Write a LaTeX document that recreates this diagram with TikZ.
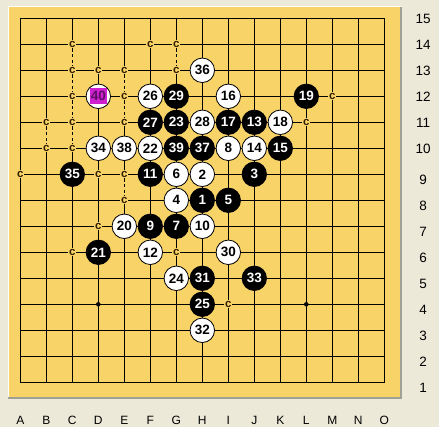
\documentclass[tikz,border=0pt]{standalone}
\usepackage{fontspec}
\setmainfont{Liberation Sans}
\usepackage{tikz}
\definecolor{board}{RGB}{248,211,104}
\definecolor{panel}{RGB}{236,233,216}
\definecolor{frameshade}{RGB}{160,160,150}
\definecolor{hilite}{RGB}{206,32,206}
\definecolor{hilitetxt}{RGB}{92,16,100}
\definecolor{cmarktxt}{RGB}{50,30,0}

\begin{document}
\begin{tikzpicture}[x=26pt,y=26pt,line width=1pt,
 bstone/.style={circle,fill=black,text=white,minimum size=25.3pt,inner sep=0pt,font=\fontsize{13.5}{13.5}\selectfont\bfseries},
 wstone/.style={circle,draw=black,line width=.8pt,fill=white,text=black,minimum size=24.5pt,inner sep=0pt,font=\fontsize{13.5}{13.5}\selectfont\bfseries},
 lastmv/.style={fill=hilite,text=hilitetxt,minimum width=17pt,minimum height=16pt,inner sep=0pt,font=\fontsize{13.5}{13.5}\selectfont\bfseries},
 cpt/.style={fill=board,text=cmarktxt,inner sep=.9pt,font=\fontsize{11.5}{11.5}\selectfont\bfseries},
 dashlink/.style={preaction={draw=board,line width=2.2pt},dash pattern=on 3pt off 2.5pt},
 collab/.style={font=\fontsize{12}{12}\selectfont},
 rowlab/.style={font=\fontsize{13.5}{13.5}\selectfont}]
\useasboundingbox (-.7808,-1.7192) rectangle (16.1038,14.7038);
\fill[panel] (-.7808,-1.7192) rectangle (16.1038,14.7038);
\fill[board] (-.473,-.604) rectangle (14.642,14.435);
\draw[white,line width=1pt] (-.473,-.604) |- (14.642,14.435);
\draw[frameshade,line width=1.5pt] (-.473,-.604) -| (14.642,14.435);

% board lines, points and letters
\draw (0,0) rectangle (14,14);
\foreach \l [count=\i from 0] in {A,B,C,D,E,F,G,H,I,J,K,L,M,N,O}{
 \draw (\i,0)--(\i,14); \draw (0,\i)--(14,\i);
 \foreach \r in {1,...,15} \coordinate (\l\r) at (\i,\r-1);
 \node[collab] (col-\l) at (\i,-1.477) {\l};}
\foreach \r in {1,...,9} \node[rowlab] (row-\r) at (15.49,\r-1.22) {\r};
\foreach \r in {10,...,15} \node[rowlab] (row-\r) at (15.49,\r-1.03) {\r};
\fill (D4) circle (2.3pt) (L4) circle (2.3pt);

% c marks
\foreach \p in {C14,F14,G14,C13,D13,E13,G13,C12,E12,M12,B11,C11,E11,L11,B10,C10,A9,D9,E9,E8,D7,C6,G6,I4}
 \node[cpt] (c-\p) at (\p) {c};
\foreach \a/\b in {C14/C13,C13/C12,C12/C11,C11/C10,B11/B10,E13/E12,E12/E11,E9/E8,G14/G13}
 \draw[dashlink] (c-\a)--(c-\b);

% stones
\foreach \p/\n in {H8/1,J9/3,I8/5,G7/7,F7/9,F9/11,J11/13,K10/15,I11/17,L12/19,D6/21,G11/23,H4/25,F11/27,G12/29,H5/31,J5/33,C9/35,H10/37,G10/39}
 \node[bstone] (s\n) at (\p) {\n};
\foreach \p/\n in {H9/2,G8/4,G9/6,I10/8,H7/10,F6/12,J10/14,I12/16,K11/18,E7/20,F10/22,G5/24,F12/26,H11/28,I6/30,H3/32,D10/34,H13/36,E10/38}
 \node[wstone] (s\n) at (\p) {\n};
\node[wstone] (s40) at (D12) {};\node[lastmv] (s40-mark) at (s40) {40};
\end{tikzpicture}
\end{document}
